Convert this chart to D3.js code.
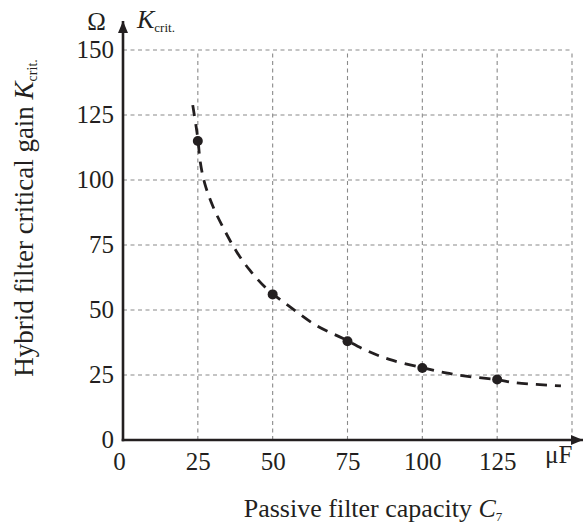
<!DOCTYPE html>
<html>
<head>
<meta charset="utf-8">
<script src="https://cdn.jsdelivr.net/npm/d3@7"></script>
<style>
  body { margin: 0; background: #fff; }
  svg text { font-family: "Liberation Serif", "Times New Roman", serif; fill: #231f20; }
</style>
</head>
<body>
<svg id="chart" width="585" height="523"></svg>
<script>
// measured points
const capPoints = [25, 50, 75, 100, 125];
const gainPoints = [115, 56, 38, 27.7, 23.3];

// dashed fitted curve
const capCurve = [23.3, 24.5, 25.1, 25.8, 27.3, 30.1, 34, 37.9, 42.3, 47.9, 55.7, 64.6, 73.4, 81.2, 89, 100, 107.9, 115.7, 125, 131.2, 146.3];
const gainCurve = [128.8, 120, 115, 107, 98.7, 89.7, 80.5, 72.5, 65.4, 58.3, 51.3, 44, 39.1, 34.5, 31, 27.8, 25.8, 24.4, 23.2, 22, 20.8];

const xTicks = [0, 25, 50, 75, 100, 125];
const yTicks = [0, 25, 50, 75, 100, 125, 150];
const gridVals = [25, 50, 75, 100, 125, 150];

const ink = "#231f20";
const serif = '"Liberation Serif", "Times New Roman", serif';
const svg = d3.select("#chart");

const x = d3.scaleLinear().domain([0, 150]).range([123, 572]);
const y = d3.scaleLinear().domain([0, 150]).range([440, 50]);

// grid
const grid = svg.append("g")
  .attr("stroke", "#8a8a8a")
  .attr("stroke-width", 1.1)
  .attr("stroke-dasharray", "4,3.5");
grid.selectAll(".vg").data(gridVals).enter().append("line")
  .attr("x1", d => x(d)).attr("x2", d => x(d))
  .attr("y1", y(0)).attr("y2", y(150));
grid.selectAll(".hg").data(gridVals).enter().append("line")
  .attr("x1", x(0)).attr("x2", x(150))
  .attr("y1", d => y(d)).attr("y2", d => y(d));

// axes, ticks are labels only
const xAxisG = svg.append("g")
  .attr("transform", "translate(0," + y(0) + ")")
  .call(d3.axisBottom(x).tickValues(xTicks).tickSize(0).tickPadding(12));
const yAxisG = svg.append("g")
  .attr("transform", "translate(" + x(0) + ",0)")
  .call(d3.axisLeft(y).tickValues(yTicks).tickSize(0).tickPadding(9));
[xAxisG, yAxisG].forEach(g => {
  g.attr("font-family", serif).attr("font-size", 25);
  g.select(".domain").remove();
  g.selectAll("text").attr("fill", ink);
});
xAxisG.selectAll("text").attr("dy", "0.71em").attr("dx", d => d === 0 ? -4 : 0);
yAxisG.selectAll("text").attr("dy", "0.3em");

// axis lines with arrows
svg.append("defs").append("marker")
  .attr("id", "arr")
  .attr("viewBox", "0 0 12 10")
  .attr("refX", 12).attr("refY", 5)
  .attr("markerWidth", 12).attr("markerHeight", 10)
  .attr("markerUnits", "userSpaceOnUse")
  .attr("orient", "auto")
  .append("path").attr("d", "M0,0 L12,5 L0,10 Z").attr("fill", ink);

svg.append("line")
  .attr("x1", x(0) - 1.3).attr("x2", 583)
  .attr("y1", y(0)).attr("y2", y(0))
  .attr("stroke", ink).attr("stroke-width", 2.6)
  .attr("marker-end", "url(#arr)");
svg.append("line")
  .attr("x1", x(0)).attr("x2", x(0))
  .attr("y1", y(0) + 1.3).attr("y2", 21)
  .attr("stroke", ink).attr("stroke-width", 2.6)
  .attr("marker-end", "url(#arr)");

// dashed curve
const curve = capCurve.map((c, i) => [c, gainCurve[i]]);
svg.append("path")
  .datum(curve)
  .attr("fill", "none")
  .attr("stroke", ink)
  .attr("stroke-width", 2.8)
  .attr("stroke-dasharray", "11,8")
  .attr("d", d3.line().x(d => x(d[0])).y(d => y(d[1])).curve(d3.curveCatmullRom));

// points
svg.selectAll(".pt").data(capPoints).enter().append("circle")
  .attr("cx", d => x(d))
  .attr("cy", (d, i) => y(gainPoints[i]))
  .attr("r", 5)
  .attr("fill", ink);

// unit labels
svg.append("text").attr("x", 96.5).attr("y", 30).attr("text-anchor", "middle")
  .style("font-size", "25px").text("Ω");
const kLab = svg.append("text").attr("x", 137).attr("y", 28).style("font-size", "26px");
kLab.append("tspan").style("font-style", "italic").text("K");
kLab.append("tspan").attr("dy", 4).style("font-size", "13px").text("crit.");

svg.append("text").attr("x", 545).attr("y", 463).style("font-size", "25px").text("μF");

// axis titles
const xt = svg.append("text").attr("x", 373).attr("y", 517).attr("text-anchor", "middle").style("font-size", "26px");
xt.append("tspan").text("Passive filter capacity ");
xt.append("tspan").style("font-style", "italic").text("C");
xt.append("tspan").attr("dy", 4).style("font-size", "13px").text("7");

const yt = svg.append("text")
  .attr("transform", "translate(33,218) rotate(-90)")
  .attr("text-anchor", "middle").style("font-size", "27px");
yt.append("tspan").text("Hybrid filter critical gain ");
yt.append("tspan").style("font-style", "italic").text("K");
yt.append("tspan").attr("dy", 4).style("font-size", "14px").text("crit.");
</script>
</body>
</html>
